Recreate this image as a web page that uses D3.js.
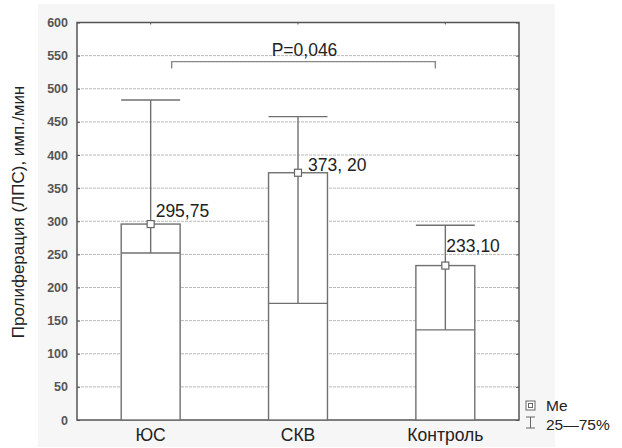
<!DOCTYPE html>
<html>
<head>
<meta charset="utf-8">
<script src="https://cdn.jsdelivr.net/npm/d3@7"></script>
<style>
  body { margin: 0; background: #fff; }
  svg { display: block; font-family: "Liberation Sans", Arial, sans-serif; }
</style>
</head>
<body>
<svg id="chart" width="622" height="448"></svg>
<script>
// data
const groups = ["ЮС", "СКВ", "Контроль"];
const medians = [295.75, 373.2, 233.1];
const q25 = [252, 176, 136];
const q75 = [483, 458, 294];
const medianLabels = ["295,75", "373, 20", "233,10"];
const labelOffsets = [[5, -7], [10, -2], [1, -14]];
const yTicks = [0, 50, 100, 150, 200, 250, 300, 350, 400, 450, 500, 550, 600];
const bracket = { from: "ЮС", to: "Контроль", value: 541, text: "P=0,046" };

const svg = d3.select("#chart");
const pl = 77, pr = 519, pt = 22.5, pb = 420;

// outer light panel
svg.append("rect")
    .attr("x", 38).attr("y", 4).attr("width", 517).attr("height", 443)
    .attr("fill", "#f6f6f6");
svg.append("rect")
    .attr("x", pl).attr("y", pt).attr("width", pr - pl).attr("height", pb - pt)
    .attr("fill", "#fff");

const x = d3.scaleBand().domain(groups).range([pl, pr]).padding(0);
const y = d3.scaleLinear().domain([0, 600]).range([pb, pt]);
const bw = x.bandwidth() * 0.4;
const cx = g => x(g) + x.bandwidth() / 2;

// grid
svg.append("g")
  .selectAll("line")
  .data(yTicks.filter(d => d > 0 && d < 600))
  .join("line")
    .attr("x1", pl).attr("x2", pr)
    .attr("y1", d => y(d)).attr("y2", d => y(d))
    .attr("stroke", "#b8b8b8")
    .attr("stroke-dasharray", "3,1");

// y axis left
const yAxis = svg.append("g")
    .attr("transform", `translate(${pl},0)`)
    .call(d3.axisLeft(y).tickValues(yTicks).tickSize(-3).tickPadding(9));
yAxis.select(".domain").remove();
yAxis.selectAll("line").attr("stroke", "#555");
yAxis.selectAll("text")
    .attr("font-size", 12.5)
    .attr("font-weight", "bold")
    .attr("fill", "#555")
    .attr("font-family", "Liberation Sans, Arial, sans-serif");

// right ticks
const yAxisR = svg.append("g")
    .attr("transform", `translate(${pr},0)`)
    .call(d3.axisRight(y).tickValues(yTicks).tickSize(-3).tickFormat(""));
yAxisR.select(".domain").remove();
yAxisR.selectAll("line").attr("stroke", "#555");

// x axis bottom
const xAxis = svg.append("g")
    .attr("transform", `translate(0,${pb})`)
    .call(d3.axisBottom(x).tickSize(-2).tickPadding(9));
xAxis.select(".domain").remove();
xAxis.selectAll("line").attr("stroke", "#555");
xAxis.selectAll("text")
    .attr("font-size", 17.5)
    .attr("fill", "#222")
    .attr("font-family", "Liberation Sans, Arial, sans-serif");

// top ticks
const xAxisT = svg.append("g")
    .attr("transform", `translate(0,${pt})`)
    .call(d3.axisTop(x).tickSize(-2).tickFormat(""));
xAxisT.select(".domain").remove();
xAxisT.selectAll("line").attr("stroke", "#555");

// frame
svg.append("rect")
    .attr("x", pl).attr("y", pt).attr("width", pr - pl).attr("height", pb - pt)
    .attr("fill", "none").attr("stroke", "#555").attr("stroke-width", 1.5);

// boxes
const boxes = svg.append("g")
  .selectAll("g")
  .data(groups)
  .join("g");

boxes.append("rect")
    .attr("x", d => cx(d) - bw / 2)
    .attr("width", bw)
    .attr("y", (d, i) => y(medians[i]))
    .attr("height", (d, i) => y(0) - y(medians[i]))
    .attr("fill", "#fff")
    .attr("stroke", "#707070")
    .attr("stroke-width", 1.4);

// whisker 25-75
boxes.append("line")
    .attr("x1", d => cx(d)).attr("x2", d => cx(d))
    .attr("y1", (d, i) => y(q25[i])).attr("y2", (d, i) => y(q75[i]))
    .attr("stroke", "#707070").attr("stroke-width", 1.4);
boxes.append("line")
    .attr("x1", d => cx(d) - bw / 2).attr("x2", d => cx(d) + bw / 2)
    .attr("y1", (d, i) => y(q75[i])).attr("y2", (d, i) => y(q75[i]))
    .attr("stroke", "#707070").attr("stroke-width", 1.4);
boxes.append("line")
    .attr("x1", d => cx(d) - bw / 2).attr("x2", d => cx(d) + bw / 2)
    .attr("y1", (d, i) => y(q25[i])).attr("y2", (d, i) => y(q25[i]))
    .attr("stroke", "#707070").attr("stroke-width", 1.4);

// median marker
boxes.append("rect")
    .attr("x", d => cx(d) - 3.5)
    .attr("y", (d, i) => y(medians[i]) - 3.5)
    .attr("width", 7).attr("height", 7)
    .attr("fill", "#fff").attr("stroke", "#666").attr("stroke-width", 1.2);

boxes.append("text")
    .attr("x", (d, i) => cx(d) + labelOffsets[i][0])
    .attr("y", (d, i) => y(medians[i]) + labelOffsets[i][1])
    .attr("font-size", 17.5)
    .attr("fill", "#222")
    .text((d, i) => medianLabels[i]);

// significance bracket
const bx1 = cx(bracket.from) + 21, bx2 = cx(bracket.to) - 10, by = y(bracket.value);
svg.append("path")
    .attr("d", `M${bx1},${by + 7}V${by}H${bx2}V${by + 7}`)
    .attr("fill", "none").attr("stroke", "#888").attr("stroke-width", 1.4);
svg.append("text")
    .attr("x", (bx1 + bx2) / 2 + 1)
    .attr("y", by - 6)
    .attr("text-anchor", "middle")
    .attr("font-size", 17.5)
    .attr("fill", "#222")
    .text(bracket.text);

// y label
svg.append("text")
    .attr("transform", `translate(24,212) rotate(-90)`)
    .attr("text-anchor", "middle")
    .attr("font-size", 17)
    .attr("fill", "#222")
    .text("Пролиферация (ЛПС), имп./мин");

// legend
const lg = svg.append("g").attr("transform", "translate(526,401)");
lg.append("rect").attr("x", 0).attr("y", 0).attr("width", 9).attr("height", 9)
    .attr("fill", "#fff").attr("stroke", "#666").attr("stroke-width", 1);
lg.append("rect").attr("x", 2.5).attr("y", 2.5).attr("width", 4).attr("height", 4)
    .attr("fill", "#fff").attr("stroke", "#666").attr("stroke-width", 1);
lg.append("path")
    .attr("d", "M0,16H9M4.5,16V27M0,27H9")
    .attr("fill", "none").attr("stroke", "#666").attr("stroke-width", 1);
lg.append("text").attr("x", 20).attr("y", 10).attr("font-size", 15.5).attr("fill", "#222").text("Me");
lg.append("text").attr("x", 20).attr("y", 28.5).attr("font-size", 15.5).attr("fill", "#222").text("25—75%");
</script>
</body>
</html>
